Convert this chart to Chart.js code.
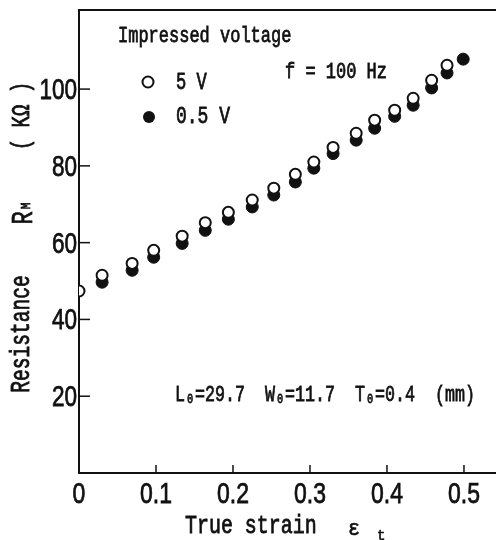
<!DOCTYPE html>
<html lang="en">
<head>
<meta charset="UTF-8">
<title>Resistance vs true strain</title>
<script src="https://cdn.jsdelivr.net/npm/chart.js"></script>
<style>
  html, body { margin: 0; padding: 0; background: #fff; }
  #wrap { width: 496px; height: 540px; }
</style>
</head>
<body>
<div id="wrap"><canvas id="chart" width="496" height="540"></canvas></div>
<script>
// values
const strain5V = [0, 0.030, 0.069, 0.097, 0.134, 0.164, 0.194, 0.225, 0.253, 0.281, 0.305, 0.330, 0.360, 0.384, 0.410, 0.434, 0.458, 0.478];
const res5V    = [47.4, 51.5, 54.6, 58.0, 61.7, 65.2, 67.9, 71.1, 74.2, 77.8, 81.0, 84.8, 88.5, 91.9, 94.5, 97.6, 102.3, 106.2];
const strain05V = [0.030, 0.069, 0.097, 0.134, 0.164, 0.194, 0.225, 0.253, 0.281, 0.305, 0.330, 0.360, 0.384, 0.410, 0.434, 0.458, 0.478, 0.499];
const res05V    = [49.7, 52.8, 56.2, 59.8, 63.2, 66.1, 69.3, 72.4, 75.8, 79.4, 83.2, 86.7, 89.8, 92.9, 95.8, 100.3, 104.2, 107.8];
const xTicks = [0, 0.1, 0.2, 0.3, 0.4, 0.5];
const yTicks = [20, 40, 60, 80, 100];

const ink = '#111';
const mono = '"Liberation Mono", "DejaVu Sans Mono", monospace';
const sans = '"Liberation Sans", Arimo, sans-serif';

function pts(xs, ys) {
  return xs.map((x, i) => ({ x: x, y: ys[i] }));
}

// draws text stretched (typewriter look of the scan), a bit heavier
function txt(ctx, s, x, y, size, sx, sy, align, rot, fam) {
  ctx.save();
  ctx.translate(x, y);
  if (rot) ctx.rotate(-Math.PI / 2);
  ctx.scale(sx, sy);
  ctx.font = size + 'px ' + (fam || mono);
  ctx.textAlign = align || 'left';
  ctx.textBaseline = 'middle';
  ctx.fillStyle = ink;
  ctx.strokeStyle = ink;
  ctx.lineWidth = 0.6;
  ctx.fillText(s, 0, 0);
  ctx.strokeText(s, 0, 0);
  ctx.restore();
}

const decor = {
  id: 'decor',
  afterDraw(chart) {
    const ctx = chart.ctx;
    const a = chart.chartArea;
    const xs = chart.scales.x, ys = chart.scales.y;
    ctx.save();
    ctx.strokeStyle = ink;
    ctx.lineWidth = 2;
    // top frame line
    ctx.beginPath();
    ctx.moveTo(a.left, a.top);
    ctx.lineTo(a.right, a.top);
    ctx.stroke();
    // inward tick marks
    ctx.lineWidth = 1.5;
    yTicks.forEach(v => {
      const py = ys.getPixelForValue(v);
      ctx.beginPath();
      ctx.moveTo(a.left, py);
      ctx.lineTo(a.left + 11, py);
      ctx.stroke();
    });
    xTicks.slice(1).forEach(v => {
      const px = xs.getPixelForValue(v);
      ctx.beginPath();
      ctx.moveTo(px, a.bottom);
      ctx.lineTo(px, a.bottom - 8);
      ctx.stroke();
    });
    ctx.restore();

    // tick labels, placed with the scales
    yTicks.forEach(v => {
      txt(ctx, String(v), a.left - 2, ys.getPixelForValue(v) + 2, 23, 0.98, 1.25, 'right', false, sans);
    });
    xTicks.forEach(v => {
      txt(ctx, String(v), xs.getPixelForValue(v), a.bottom + 22, 23, 1.0, 1.25, 'center', false, sans);
    });

    // legend
    txt(ctx, 'Impressed voltage', 118, 36, 17, 1.0, 1.3);
    ctx.save();
    ctx.lineWidth = 2;
    ctx.strokeStyle = ink;
    ctx.fillStyle = '#fff';
    ctx.beginPath(); ctx.arc(148, 82, 5.5, 0, Math.PI * 2); ctx.fill(); ctx.stroke();
    ctx.fillStyle = ink;
    ctx.beginPath(); ctx.arc(149, 117, 6, 0, Math.PI * 2); ctx.fill();
    ctx.restore();
    txt(ctx, '5 V', 176, 83, 18, 0.95, 1.35);
    txt(ctx, '0.5 V', 176, 117, 18, 1.0, 1.35);
    txt(ctx, 'f = 100 Hz', 285, 72, 17, 1.0, 1.3);
    txt(ctx, 'L\u2080=29.7  W\u2080=11.7  T\u2080=0.4  (mm)', 175, 395, 17, 0.98, 1.3);

    // axis titles
    txt(ctx, 'True strain', 185, 526, 19, 1.05, 1.35);
    txt(ctx, '\u03b5', 348, 529, 20, 1.0, 1.1);
    txt(ctx, 't', 377, 536, 14, 1.0, 1.1);
    txt(ctx, 'Resistance', 22, 334, 19, 1.03, 1.45, 'center', true);
    txt(ctx, 'R', 24, 218, 22, 1.0, 1.3, 'center', true);
    txt(ctx, 'M', 27, 206, 11, 1.0, 1.2, 'center', true);
    txt(ctx, '( K\u03a9 )', 22, 116, 19, 1.0, 1.4, 'center', true);
  }
};

new Chart(document.getElementById('chart'), {
  type: 'scatter',
  data: {
    datasets: [
      {
        label: '5 V',
        data: pts(strain5V, res5V),
        pointStyle: 'circle',
        pointRadius: 5.5,
        pointBorderWidth: 2,
        pointBackgroundColor: '#fff',
        pointBorderColor: ink
      },
      {
        label: '0.5 V',
        data: pts(strain05V, res05V),
        pointStyle: 'circle',
        pointRadius: 6,
        pointBorderWidth: 1,
        pointBackgroundColor: ink,
        pointBorderColor: ink
      }
    ]
  },
  options: {
    responsive: false,
    animation: false,
    layout: { autoPadding: false, padding: { top: 10, right: 0, left: 0, bottom: 0 } },
    plugins: { legend: { display: false }, tooltip: { enabled: false } },
    scales: {
      x: {
        type: 'linear',
        min: 0,
        max: 0.5416,
        afterFit(s) { s.height = 67; },
        afterBuildTicks(s) { s.ticks = xTicks.map(v => ({ value: v })); },
        grid: { display: false, drawTicks: false },
        border: { display: true, color: ink, width: 2 },
        ticks: { display: false }
      },
      y: {
        type: 'linear',
        min: 0,
        max: 120.6,
        afterFit(s) { s.width = 79; },
        afterBuildTicks(s) { s.ticks = yTicks.map(v => ({ value: v })); },
        grid: { display: false, drawTicks: false },
        border: { display: true, color: ink, width: 2 },
        ticks: { display: false }
      }
    }
  },
  plugins: [decor]
});
</script>
</body>
</html>
